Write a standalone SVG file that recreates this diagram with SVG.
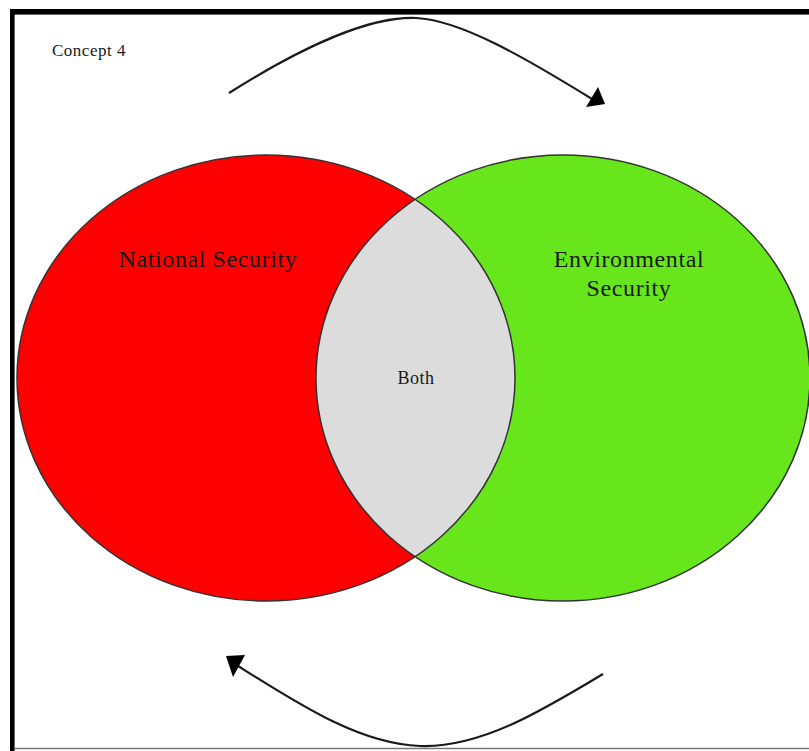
<svg xmlns="http://www.w3.org/2000/svg" width="809" height="751" viewBox="0 0 809 751">
<style>
  .lbl { font-family: "Liberation Serif", "Times New Roman", serif; fill: #1a1a1a; }
  .big { font-size: 24px; letter-spacing: 0.6px; }
  .outline { fill: none; stroke: #333; stroke-width: 1.5; }
  .arrow { fill: none; stroke: #1a1a1a; stroke-width: 2.2; }
</style>
<defs>
  <clipPath id="clipLeft">
    <ellipse cx="266" cy="378" rx="249" ry="223"/>
  </clipPath>
</defs>
<rect x="0" y="0" width="809" height="751" fill="#fff"/>
<g id="frame">
  <rect x="10" y="9" width="799" height="6" fill="#000"/>
  <rect x="10" y="9" width="5" height="742" fill="#000"/>
  <line x1="15" y1="14.5" x2="809" y2="14.5" stroke="#666" stroke-width="1"/>
  <line x1="14.5" y1="15" x2="14.5" y2="751" stroke="#666" stroke-width="1"/>
  <line x1="15" y1="748.5" x2="809" y2="748.5" stroke="#777" stroke-width="1.5"/>
</g>
<g id="title">
  <text class="lbl" x="52" y="56" font-size="17" letter-spacing="0.5">Concept 4</text>
</g>
<g id="national-security">
  <ellipse cx="266" cy="378" rx="249" ry="223" fill="#ff0000"/>
</g>
<g id="environmental-security">
  <ellipse cx="563" cy="378" rx="247" ry="223" fill="#66e61b"/>
</g>
<g id="both">
  <ellipse cx="563" cy="378" rx="247" ry="223" fill="#dcdcdc" clip-path="url(#clipLeft)"/>
</g>
<g id="outlines">
  <ellipse class="outline" cx="266" cy="378" rx="249" ry="223"/>
  <ellipse class="outline" cx="563" cy="378" rx="247" ry="223"/>
</g>
<g id="labels">
  <text class="lbl big" x="208" y="267" text-anchor="middle">National Security</text>
  <text class="lbl big" x="629" y="267" text-anchor="middle">Environmental</text>
  <text class="lbl big" x="629" y="296" text-anchor="middle">Security</text>
  <text class="lbl" x="416" y="384" font-size="18" letter-spacing="0.5" text-anchor="middle">Both</text>
</g>
<g id="connectors">
  <path class="arrow" d="M229,93 C305,45 372,16 416,18 C460,20 524,57 592,99"/>
  <polygon points="605,104 586,107 598,87" fill="#000"/>
  <path class="arrow" d="M603,674 C540,712 480,748 420,746 C360,744 300,705 238,666"/>
  <polygon points="226,656 245,655 233,677" fill="#000"/>
</g>
</svg>
